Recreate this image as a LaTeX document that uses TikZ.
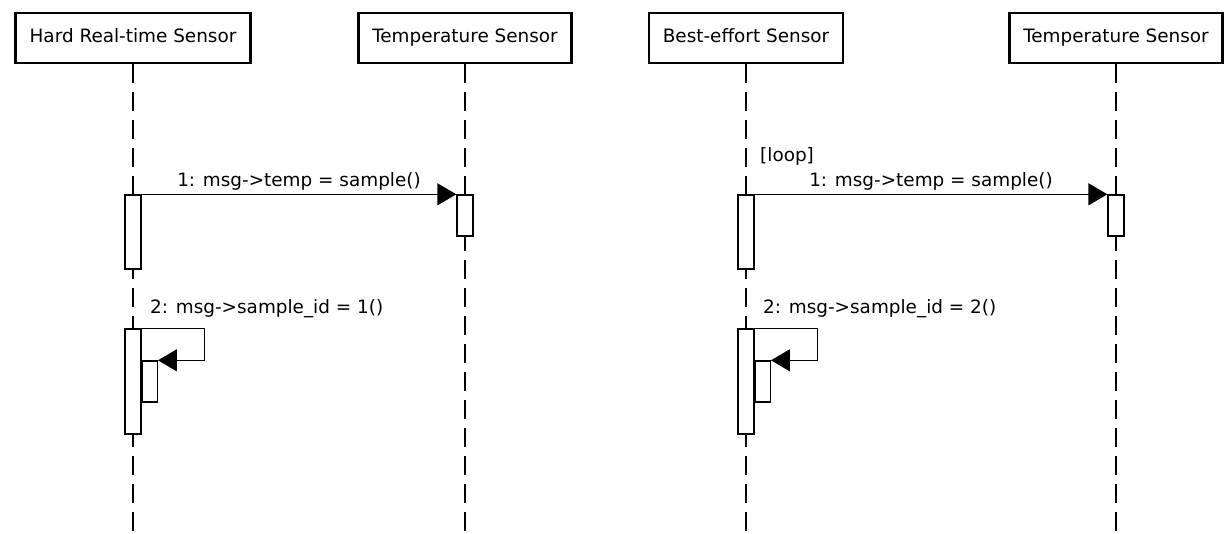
\documentclass[tikz,border=0pt]{standalone}
\usepackage{fontspec}
\setmainfont{DejaVu Sans}
\usetikzlibrary{arrows.meta,positioning}
\newcommand{\seqfont}{\fontsize{18.4pt}{22pt}\selectfont}
\tikzset{
head/.style={draw,line width=2.6pt,fill=white,minimum height=50pt,inner xsep=14pt,text height=13.5pt,text depth=4pt,font=\seqfont},
act/.style={draw,line width=1.3pt,fill=white,minimum width=16pt,inner sep=0pt},
lifeline/.style={line width=1.3pt,dash pattern=on 19pt off 9pt},
msg/.style={-{Triangle[length=19pt,width=22pt]},line width=1.3pt},
lbl/.style={font=\seqfont,inner sep=0pt}
}

\begin{document}
\begin{tikzpicture}[x=1pt,y=-1pt]
\useasboundingbox (0,0) rectangle (1230,533);
\coordinate (bot) at (0,533);
\node[head] (hrs) at (133,38) {Hard Real-time Sensor};
\node[head] (ts1) at (465,38) {Temperature Sensor};
\node[head] (bes) at (746,38) {Best-effort Sensor};
\node[head] (ts2) at (1116,38) {Temperature Sensor};
\foreach \n in {hrs,ts1,bes,ts2}
  \draw[lifeline] (\n.south) -- (\n.south |- bot);

\node[act,minimum height=74pt,below=130pt of hrs.south] (h1) {};
\node[act,minimum height=41pt,below=130pt of ts1.south] (t1) {};
\draw[msg] (h1.north east) -- node[lbl,above=3pt] (m1) {1: msg->temp = sample()} (t1.north west);
\node[act,minimum height=105pt,below=264pt of hrs.south] (h2) {};
\node[act,minimum width=15pt,minimum height=41pt,anchor=north west] (h3) at ([yshift=-32pt]h2.north east) {};
\draw[msg] (h2.north east) -- ++(63pt,0) |- (h3.north east);
\node[lbl,anchor=base west] (m2) at ([xshift=17pt,yshift=15pt]h2.north) {2: msg->sample\_id = 1()};

\node[act,minimum height=74pt,below=130pt of bes.south] (b1) {};
\node[act,minimum height=41pt,below=130pt of ts2.south] (t2) {};
\node[lbl,anchor=base west] (lp) at ([xshift=14pt,yshift=33pt]b1.north) {[loop]};
\draw[msg] (b1.north east) -- node[lbl,above=3pt] (m3) {1: msg->temp = sample()} (t2.north west);
\node[act,minimum height=105pt,below=264pt of bes.south] (b2) {};
\node[act,minimum width=15pt,minimum height=41pt,anchor=north west] (b3) at ([yshift=-32pt]b2.north east) {};
\draw[msg] (b2.north east) -- ++(63pt,0) |- (b3.north east);
\node[lbl,anchor=base west] (m4) at ([xshift=17pt,yshift=15pt]b2.north) {2: msg->sample\_id = 2()};
\end{tikzpicture}
\end{document}
